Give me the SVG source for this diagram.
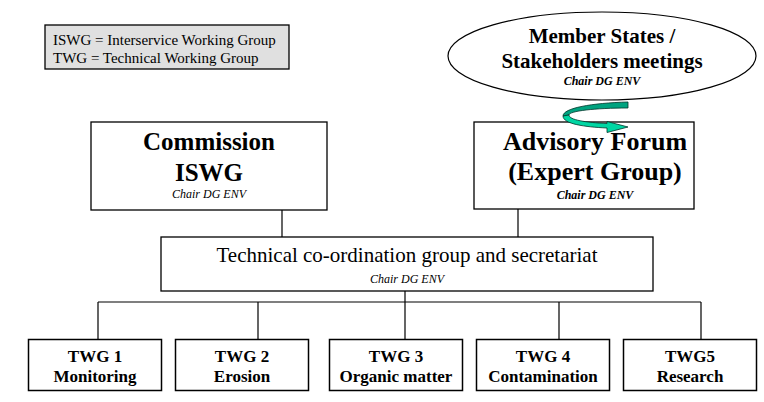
<svg xmlns="http://www.w3.org/2000/svg" width="764" height="402" viewBox="0 0 764 402" font-family="'Liberation Serif', 'Times New Roman', 'DejaVu Serif', serif">
<style>
text{font-family:'Liberation Serif','Times New Roman','DejaVu Serif',serif;fill:#000;text-anchor:middle}
.box{fill:#fff;stroke:#000;stroke-width:1.3}
.twg{fill:#fff;stroke:#000;stroke-width:1.5}
.con{fill:none;stroke:#000;stroke-width:1.2}
.b{font-weight:bold}
.it{font-style:italic;font-size:12px}
.bi{font-style:italic;font-weight:bold;font-size:12px}
.t17{font-size:17px;font-weight:bold}
</style>
<rect width="764" height="402" fill="#fff"/>
<g id="legend">
<rect x="45" y="25" width="244" height="44" fill="#e0e0e0" stroke="#000" stroke-width="1.3"/>
<text x="53" y="45" style="text-anchor:start;font-size:15px">ISWG = Interservice Working Group</text>
<text x="53" y="62.5" style="text-anchor:start;font-size:15px">TWG = Technical Working Group</text>
</g>
<g id="connectors">
<path class="con" d="M282 210V237M518 209V237M405 291V302M98 302H701M98 302V339M258 302V339M405 302V339M559 302V339M701 302V339"/>
</g>
<g id="commission">
<rect class="box" x="91" y="122" width="236" height="88"/>
<text x="209" y="150" class="b" font-size="25">Commission</text>
<text x="209" y="181" class="b" font-size="25">ISWG</text>
<text x="209" y="198" class="it">Chair DG ENV</text>
</g>
<g id="advisory">
<rect class="box" x="474" y="122" width="220" height="87"/>
<text x="595" y="150" class="b" font-size="26">Advisory Forum</text>
<text x="595" y="180" class="b" font-size="26">(Expert Group)</text>
<text x="595" y="199" class="bi">Chair DG ENV</text>
</g>
<g id="stakeholders">
<ellipse cx="602" cy="56" rx="154" ry="44" fill="#fff" stroke="#000" stroke-width="1.2"/>
<text x="602" y="43" class="b" font-size="21">Member States /</text>
<text x="602" y="68" class="b" font-size="21">Stakeholders meetings</text>
<text x="602" y="85" class="bi">Chair DG ENV</text>
</g>
<g id="cycle-arrow" stroke="#00352a" stroke-width="0.8" stroke-linejoin="round">
<path fill="#00a37f" d="M628 102 C592 103 563 108 563 116 L569 115 C569 111 595 108 628 108 Z"/>
<path fill="#00d6a3" d="M563 116 C563 124 585 127 607 128 L607 132.5 L628 127 L607 121.5 L607 123.5 C586 122.5 569 120 569 115 Z"/>
</g>
<g id="technical">
<rect class="box" x="161" y="237" width="492" height="54"/>
<text x="407" y="262" font-size="21">Technical co-ordination group and secretariat</text>
<text x="407" y="283" class="it">Chair DG ENV</text>
</g>
<g id="twg1">
<rect class="twg" x="28.5" y="339.5" width="133" height="51"/>
<text x="95" y="362" class="t17">TWG 1</text>
<text x="95" y="382" class="t17">Monitoring</text>
</g>
<g id="twg2">
<rect class="twg" x="175.5" y="339.5" width="133" height="51"/>
<text x="242" y="362" class="t17">TWG 2</text>
<text x="242" y="382" class="t17">Erosion</text>
</g>
<g id="twg3">
<rect class="twg" x="329.5" y="339.5" width="133" height="51"/>
<text x="396" y="362" class="t17">TWG 3</text>
<text x="396" y="382" class="t17">Organic matter</text>
</g>
<g id="twg4">
<rect class="twg" x="476.5" y="339.5" width="133" height="51"/>
<text x="543" y="362" class="t17">TWG 4</text>
<text x="543" y="382" class="t17">Contamination</text>
</g>
<g id="twg5">
<rect class="twg" x="623.5" y="339.5" width="133" height="51"/>
<text x="690" y="362" class="t17">TWG5</text>
<text x="690" y="382" class="t17">Research</text>
</g>
</svg>
